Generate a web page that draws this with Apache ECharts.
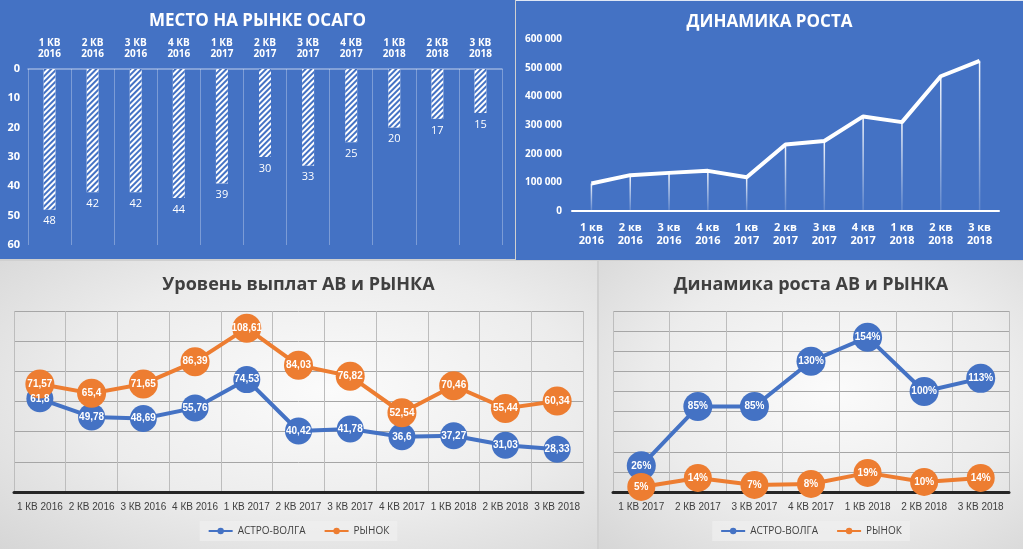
<!DOCTYPE html>
<html>
<head>
<meta charset="utf-8">
<script src="https://cdn.jsdelivr.net/npm/echarts@6/dist/echarts.min.js"></script>
<style>
  html, body { margin: 0; padding: 0; width: 1023px; height: 549px; overflow: hidden; background: #d0d0d0; }
  .panel { position: absolute; }
  .blue { background: #4472c4; }
  .gray { background: radial-gradient(ellipse at 55% 45%, #fbfbfb 0%, #ececec 55%, #d6d6d6 100%); }
  #rank { left: 0; top: 0; width: 515px; height: 259px; }
  #growth { left: 516px; top: 0; width: 507px; height: 260px; border-top: 1px solid #dfe7f5; box-sizing: border-box; }
  #pay { left: 0; top: 261px; width: 597px; height: 288px; }
  #dyn { left: 599px; top: 261px; width: 424px; height: 288px; }
</style>
</head>
<body>
<div id="rank" class="panel blue"></div>
<div id="growth" class="panel blue"></div>
<div id="pay" class="panel gray"></div>
<div id="dyn" class="panel gray"></div>
<script>
// --- data ---
const rankQuarters = ['1 КВ\n2016', '2 КВ\n2016', '3 КВ\n2016', '4 КВ\n2016', '1 КВ\n2017', '2 КВ\n2017',
  '3 КВ\n2017', '4 КВ\n2017', '1 КВ\n2018', '2 КВ\n2018', '3 КВ\n2018']
const rankValues = [48, 42, 42, 44, 39, 30, 33, 25, 20, 17, 15]

const growthQuarters = ['1 кв\n2016', '2 кв\n2016', '3 кв\n2016', '4 кв\n2016', '1 кв\n2017', '2 кв\n2017',
  '3 кв\n2017', '4 кв\n2017', '1 кв\n2018', '2 кв\n2018', '3 кв\n2018']
const growthValues = [96000, 125000, 133000, 140000, 118000, 232000, 244000, 330000, 310000, 470000, 524000]

const payQuarters = ['1 КВ 2016', '2 КВ 2016', '3 КВ 2016', '4 КВ 2016', '1 КВ 2017', '2 КВ 2017',
  '3 КВ 2017', '4 КВ 2017', '1 КВ 2018', '2 КВ 2018', '3 КВ 2018']
const payAstro = [61.8, 49.78, 48.69, 55.76, 74.53, 40.42, 41.78, 36.6, 37.27, 31.03, 28.33]
const payMarket = [71.57, 65.4, 71.65, 86.39, 108.61, 84.03, 76.82, 52.54, 70.46, 55.44, 60.34]

const dynQuarters = ['1 КВ 2017', '2 КВ 2017', '3 КВ 2017', '4 КВ 2017', '1 КВ 2018', '2 КВ 2018', '3 КВ 2018']
const dynAstro = [26, 85, 85, 130, 154, 100, 113]
const dynMarket = [5, 14, 7, 8, 19, 10, 14]

const BLUE = '#4472c4'
const ORANGE = '#ed7d31'
const FONT = "'Open Sans', 'Noto Sans', sans-serif"
const NARROW = "'Liberation Sans Narrow', 'Liberation Sans', sans-serif"

// --- МЕСТО НА РЫНКЕ ОСАГО ---
echarts.init(document.getElementById('rank')).setOption({
  animation: false,
  title: {
    text: 'МЕСТО НА РЫНКЕ ОСАГО', left: 'center', top: 8,
    textStyle: { color: '#fff', fontSize: 17, fontWeight: 'bold', fontFamily: FONT },
  },
  grid: { left: 28, right: 13, top: 69, bottom: 14 },
  xAxis: {
    type: 'category', data: rankQuarters, position: 'top',
    axisLine: { lineStyle: { color: 'rgba(255,255,255,0.45)', width: 1.5 } },
    axisTick: { show: false },
    axisLabel: { color: '#fff', fontSize: 10, fontWeight: 'bold', fontFamily: FONT, lineHeight: 11, margin: 9 },
    splitLine: { show: true, lineStyle: { color: 'rgba(255,255,255,0.3)', width: 1 } },
  },
  yAxis: {
    type: 'value', inverse: true, min: 0, max: 60, interval: 10,
    axisLine: { show: false }, axisTick: { show: false },
    axisLabel: { color: '#fff', fontSize: 11, fontWeight: 'bold', fontFamily: FONT, margin: 8 },
    splitLine: { show: false },
  },
  series: [{
    type: 'bar', data: rankValues, barWidth: 12,
    itemStyle: {
      color: '#fff',
      decal: { symbol: 'rect', symbolSize: 1, dashArrayX: [1, 0], dashArrayY: [2, 2], rotation: -Math.PI / 4, color: BLUE },
    },
    label: { show: true, position: 'bottom', distance: 6, color: '#fff', fontSize: 11, fontFamily: FONT },
  }],
})

// --- ДИНАМИКА РОСТА ---
echarts.init(document.getElementById('growth')).setOption({
  animation: false,
  title: {
    text: 'ДИНАМИКА РОСТА', left: 'center', top: 8,
    textStyle: { color: '#fff', fontSize: 17, fontWeight: 'bold', fontFamily: FONT },
  },
  grid: { left: 56, right: 24, top: 38, bottom: 49 },
  xAxis: {
    type: 'category', data: growthQuarters,
    axisLine: { lineStyle: { color: '#fff', width: 2 } },
    axisTick: { show: false },
    axisLabel: { color: '#fff', fontSize: 11, fontWeight: 'bold', fontFamily: FONT, lineHeight: 13, margin: 10 },
  },
  yAxis: {
    type: 'value', min: 0, max: 600000, interval: 100000,
    axisLine: { show: false }, axisTick: { show: false }, splitLine: { show: false },
    axisLabel: {
      color: '#fff', fontSize: 10, fontWeight: 'bold', fontFamily: FONT, margin: 10,
      formatter: v => String(v).replace(/\B(?=(\d{3})+(?!\d))/g, ' '),
    },
  },
  series: [
    {
      type: 'bar', data: growthValues, barWidth: 1.5, silent: true,
      itemStyle: {
        color: {
          type: 'linear', x: 0, y: 0, x2: 0, y2: 1,
          colorStops: [{ offset: 0, color: 'rgba(255,255,255,0.95)' }, { offset: 1, color: 'rgba(255,255,255,0.15)' }],
        },
      },
    },
    {
      type: 'line', data: growthValues, showSymbol: false,
      lineStyle: { color: '#fff', width: 4 },
    },
  ],
})

// shared settings for the two lower charts
function lowerOption(title, cats, astro, market, yMax, fmt, sizeA, sizeM) {
  const labelStyle = { show: true, position: 'inside', color: '#fff', fontSize: 10, fontWeight: 'bold', fontFamily: NARROW, formatter: fmt }
  return {
    animation: false,
    title: {
      text: title, left: 'center', top: 10,
      textStyle: { color: '#404040', fontSize: 18, fontWeight: 'bold', fontFamily: FONT },
    },
    legend: {
      left: 'center', bottom: 8, itemWidth: 24, itemHeight: 8, itemGap: 18,
      backgroundColor: 'rgba(240,240,240,0.7)', padding: [5, 8],
      textStyle: { color: '#404040', fontSize: 10, fontFamily: FONT },
      data: ['АСТРО-ВОЛГА', 'РЫНОК'],
    },
    grid: { left: 14, right: 14, top: 50, bottom: 57 },
    xAxis: {
      type: 'category', data: cats,
      axisLine: { lineStyle: { color: '#262626', width: 3 } },
      axisTick: { show: false },
      axisLabel: { color: '#404040', fontSize: 10, fontFamily: NARROW, margin: 10, interval: 0 },
      splitLine: { show: true, interval: 0, lineStyle: { color: '#bdbdbd', width: 1 } },
    },
    yAxis: {
      type: 'value', min: 0, max: yMax, interval: 20,
      axisLine: { show: false }, axisTick: { show: false }, axisLabel: { show: false },
      splitLine: { lineStyle: { color: '#a6a6a6', width: 1 } },
    },
    series: [
      {
        name: 'АСТРО-ВОЛГА', type: 'line', data: astro, symbol: 'circle', symbolSize: sizeA,
        lineStyle: { color: BLUE, width: 4 }, itemStyle: { color: BLUE },
        label: labelStyle,
      },
      {
        name: 'РЫНОК', type: 'line', data: market, symbol: 'circle', symbolSize: sizeM,
        lineStyle: { color: ORANGE, width: 4 }, itemStyle: { color: ORANGE },
        label: labelStyle,
      },
    ],
  }
}

// --- Уровень выплат АВ и РЫНКА ---
echarts.init(document.getElementById('pay')).setOption(
  lowerOption('Уровень выплат АВ и РЫНКА', payQuarters, payAstro, payMarket, 120,
    p => String(p.value).replace('.', ','), 27, 29)
)

// --- Динамика роста АВ и РЫНКА ---
echarts.init(document.getElementById('dyn')).setOption(
  lowerOption('Динамика роста АВ и РЫНКА', dynQuarters, dynAstro, dynMarket, 180,
    p => p.value + '%', 29, 28)
)
</script>
</body>
</html>
